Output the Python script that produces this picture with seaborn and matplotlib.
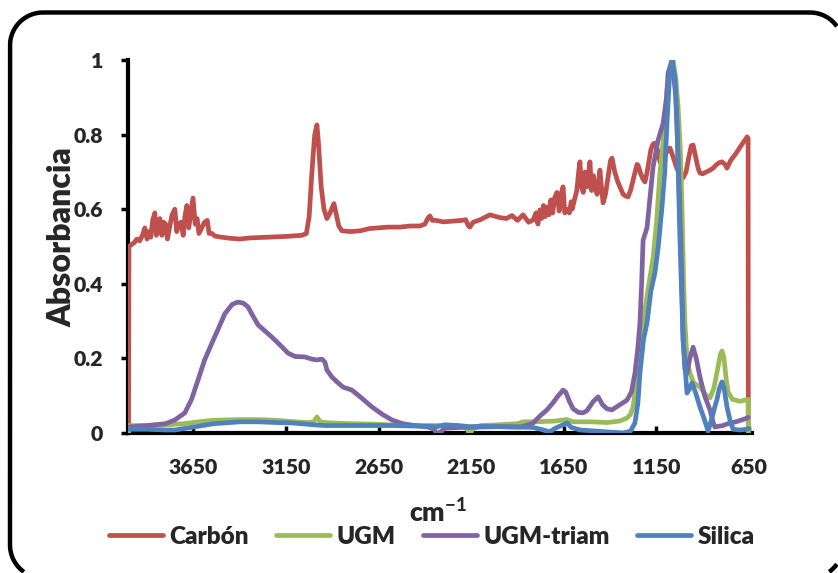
import numpy as np
import pandas as pd
import matplotlib
matplotlib.use("Agg")
import matplotlib.pyplot as plt
from matplotlib.lines import Line2D
import seaborn as sns

# FTIR spectra: wavenumber (cm-1) and normalised absorbance
carbon_wn = [4000, 3998, 3985, 3970, 3955, 3940, 3925, 3912, 3900, 3890, 3880, 3870, 3858, 3850,
             3840, 3831, 3820, 3810, 3800, 3790, 3777, 3765, 3750, 3740, 3730, 3718, 3705, 3696,
             3685, 3675, 3665, 3652, 3640, 3630, 3620, 3605, 3590, 3575, 3565, 3550, 3534, 3500,
             3450, 3400, 3345, 3250, 3150, 3064, 3040, 3025, 3010, 2995, 2983, 2975, 2960, 2945,
             2929, 2912, 2900, 2891, 2880, 2865, 2848, 2800, 2750, 2700, 2650, 2600, 2535, 2480,
             2427, 2400, 2385, 2373, 2360, 2340, 2300, 2250, 2200, 2180, 2165, 2157, 2140, 2100,
             2049, 2000, 1960, 1930, 1900, 1870, 1840, 1816, 1800, 1790, 1779, 1770, 1760, 1750,
             1741, 1730, 1720, 1710, 1700, 1687, 1675, 1665, 1654, 1645, 1633, 1620, 1610, 1605,
             1595, 1580, 1570, 1563, 1555, 1545, 1535, 1525, 1515, 1509, 1500, 1490, 1482, 1470,
             1455, 1445, 1438, 1425, 1410, 1398, 1390, 1375, 1360, 1347, 1330, 1315, 1303, 1290,
             1270, 1255, 1249, 1235, 1222, 1212, 1200, 1180, 1168, 1158, 1145, 1130, 1120, 1105,
             1090, 1077, 1060, 1040, 1020, 1006, 990, 975, 962, 952, 940, 925, 915, 900, 880, 860,
             844, 825, 810, 796, 780, 769, 750, 720, 700, 680, 665, 661, 655, 654]
carbon_abs = [0.00, 0.50, 0.505, 0.51, 0.52, 0.515, 0.53, 0.55, 0.52, 0.54, 0.525, 0.57, 0.59, 0.53,
              0.56, 0.575, 0.53, 0.565, 0.56, 0.52, 0.555, 0.585, 0.60, 0.54, 0.56, 0.565, 0.53, 0.58,
              0.61, 0.55, 0.585, 0.63, 0.56, 0.575, 0.535, 0.55, 0.565, 0.57, 0.535, 0.535, 0.528, 0.525,
              0.522, 0.52, 0.523, 0.525, 0.527, 0.53, 0.535, 0.58, 0.70, 0.80, 0.826, 0.78, 0.66, 0.60,
              0.575, 0.59, 0.605, 0.615, 0.59, 0.555, 0.542, 0.54, 0.542, 0.548, 0.55, 0.552, 0.552, 0.555,
              0.555, 0.56, 0.575, 0.582, 0.57, 0.57, 0.566, 0.568, 0.57, 0.572, 0.555, 0.552, 0.565, 0.572,
              0.585, 0.578, 0.575, 0.583, 0.57, 0.585, 0.565, 0.571, 0.59, 0.56, 0.598, 0.575, 0.61, 0.58,
              0.606, 0.585, 0.625, 0.59, 0.63, 0.645, 0.595, 0.64, 0.66, 0.59, 0.60, 0.59, 0.62, 0.60,
              0.62, 0.65, 0.70, 0.727, 0.66, 0.645, 0.70, 0.66, 0.70, 0.727, 0.65, 0.69, 0.66, 0.64,
              0.705, 0.65, 0.617, 0.64, 0.69, 0.73, 0.737, 0.70, 0.675, 0.66, 0.64, 0.635, 0.633, 0.65,
              0.69, 0.72, 0.718, 0.695, 0.68, 0.673, 0.70, 0.76, 0.775, 0.777, 0.76, 0.725, 0.724, 0.74,
              0.76, 0.764, 0.74, 0.71, 0.69, 0.684, 0.70, 0.74, 0.77, 0.772, 0.745, 0.71, 0.697, 0.695, 0.70, 0.705,
              0.71, 0.72, 0.725, 0.727, 0.72, 0.71, 0.73, 0.75, 0.765, 0.78, 0.79, 0.794, 0.79, 0.0]

ugm_wn = [4000, 3998, 3900, 3800, 3700, 3620, 3550, 3480, 3400, 3300, 3200, 3100, 3030, 3000,
          2983, 2965, 2940, 2900, 2800, 2700, 2600, 2500, 2400, 2300, 2200, 2170, 2157, 2145,
          2100, 2000, 1900, 1870, 1800, 1700, 1633, 1600, 1500, 1417, 1350, 1309, 1290, 1276,
          1255, 1239, 1222, 1200, 1168, 1150, 1131, 1110, 1093, 1075, 1060, 1045, 1033, 1020,
          1012, 1003, 996, 985, 969, 950, 915, 880, 861, 840, 820, 805, 796, 785, 775, 763,
          740, 720, 699, 680, 655, 654]
ugm_abs = [0.0, 0.02, 0.02, 0.022, 0.025, 0.03, 0.034, 0.035, 0.036, 0.036, 0.034, 0.03, 0.028, 0.03,
           0.043, 0.03, 0.028, 0.027, 0.025, 0.024, 0.022, 0.02, 0.02, 0.02, 0.018, 0.01, -0.008, 0.01,
           0.02, 0.022, 0.025, 0.03, 0.03, 0.032, 0.036, 0.03, 0.03, 0.028, 0.032, 0.04, 0.05, 0.07,
           0.15, 0.25, 0.295, 0.37, 0.47, 0.56, 0.697, 0.80, 0.92, 0.98, 1.0, 0.95, 0.874, 0.75,
           0.606, 0.40, 0.295, 0.20, 0.16, 0.135, 0.123, 0.10, 0.094, 0.12, 0.17, 0.21, 0.22, 0.20, 0.15, 0.11,
           0.09, 0.088, 0.085, 0.087, 0.09, 0.0]

triam_wn = [4000, 3900, 3800, 3750, 3696, 3660, 3625, 3590, 3550, 3515, 3480, 3440, 3409, 3380,
            3355, 3330, 3301, 3260, 3226, 3180, 3139, 3100, 3048, 3010, 2983, 2956, 2940, 2929,
            2902, 2870, 2842, 2794, 2740, 2686, 2630, 2578, 2520, 2470, 2383, 2350, 2335, 2310,
            2292, 2200, 2100, 2000, 1887, 1840, 1816, 1780, 1741, 1710, 1680, 1654, 1640, 1620,
            1600, 1570, 1546, 1525, 1490, 1465, 1440, 1417, 1390, 1350, 1309, 1285, 1266, 1250,
            1239, 1230, 1222, 1201, 1168, 1141, 1114, 1095, 1087, 1066, 1045, 1030, 1015, 1006,
            996, 985, 970, 952, 935, 915, 890, 861, 845, 834, 815, 790, 753, 720, 690, 661, 655]
triam_abs = [0.016, 0.02, 0.025, 0.035, 0.054, 0.09, 0.142, 0.195, 0.241, 0.28, 0.32, 0.345, 0.351, 0.348,
             0.338, 0.315, 0.29, 0.272, 0.257, 0.235, 0.214, 0.205, 0.204, 0.198, 0.196, 0.198, 0.19, 0.169,
             0.15, 0.135, 0.123, 0.115, 0.093, 0.07, 0.05, 0.035, 0.025, 0.021, 0.016, 0.01, -0.003, 0.005,
             0.013, 0.015, 0.016, 0.017, 0.016, 0.022, 0.027, 0.045, 0.062, 0.08, 0.10, 0.115, 0.11, 0.085,
             0.065, 0.055, 0.054, 0.06, 0.085, 0.097, 0.075, 0.065, 0.062, 0.075, 0.088, 0.11, 0.16, 0.23,
             0.295, 0.40, 0.517, 0.55, 0.714, 0.785, 0.83, 0.90, 0.965, 1.0, 0.90, 0.70, 0.45, 0.25,
             0.17, 0.16, 0.20, 0.23, 0.20, 0.15, 0.10, 0.062, 0.03, 0.016, 0.018, 0.02, 0.027, 0.03, 0.035, 0.04, 0.042]

silica_wn = [4000, 3900, 3800, 3750, 3700, 3660, 3600, 3540, 3480, 3400, 3300, 3200, 3118, 3000,
             2940, 2800, 2578, 2400, 2335, 2292, 2221, 2157, 2100, 2000, 1900, 1816, 1760, 1725,
             1700, 1654, 1633, 1610, 1563, 1500, 1417, 1330, 1290, 1266, 1250, 1239, 1220, 1201,
             1180, 1158, 1140, 1120, 1105, 1093, 1080, 1066, 1050, 1039, 1023, 1006, 985, 970,
             958, 940, 915, 890, 871, 850, 835, 823, 810, 796, 785, 769, 753, 736, 700, 661, 655]
silica_abs = [0.01, 0.01, 0.008, 0.008, 0.012, 0.015, 0.02, 0.025, 0.027, 0.03, 0.03, 0.028, 0.027, 0.022,
              0.02, 0.02, 0.02, 0.018, 0.017, 0.022, 0.02, 0.017, 0.018, 0.017, 0.016, 0.015, 0.008, 0.003,
              0.012, 0.022, 0.027, 0.015, 0.008, 0.006, 0.003, 0.0, 0.005, 0.027, 0.08, 0.16, 0.25, 0.295,
              0.38, 0.43, 0.50, 0.606, 0.70, 0.83, 0.95, 1.0, 0.95, 0.83, 0.517, 0.25, 0.107, 0.12,
              0.134, 0.11, 0.07, 0.035, 0.005, 0.04, 0.07, 0.09, 0.12, 0.137, 0.12, 0.07, 0.035, 0.01, 0.008, 0.01, 0.012]

series_names = ["Carbón", "UGM", "UGM-triam", "Silica"]
series_colors = ["#C0504D", "#9BBB59", "#8064A2", "#4F81BD"]
x_ticks = [3650, 3150, 2650, 2150, 1650, 1150, 650]
y_ticks = [0, 0.2, 0.4, 0.6, 0.8, 1]
y_ticklabels = ["0", "0.2", "0.4", "0.6", "0.8", "1"]

frames = []
for name, wn, ab in zip(series_names,
                        [carbon_wn, ugm_wn, triam_wn, silica_wn],
                        [carbon_abs, ugm_abs, triam_abs, silica_abs]):
    frames.append(pd.DataFrame({"wn": wn, "abs": ab, "serie": name}))
df = pd.concat(frames, ignore_index=True)

sns.set_theme(style="white")
plt.rcParams["font.family"] = ["Lato", "DejaVu Sans"]
plt.rcParams["font.weight"] = "heavy"
plt.rcParams["mathtext.fontset"] = "custom"
plt.rcParams["mathtext.bf"] = "Lato:black"
plt.rcParams["mathtext.rm"] = "Lato:black"
plt.rcParams["mathtext.default"] = "bf"
plt.rcParams["savefig.bbox"] = "standard"

W, H = 838, 573
LW = 3.4
fig = plt.figure(figsize=(W / 100, H / 100), dpi=100)
ax = fig.add_axes([128 / W, 1 - 433 / H, (752 - 128) / W, (433 - 60) / H])

sns.lineplot(data=df, x="wn", y="abs", hue="serie", hue_order=series_names,
             palette=series_colors, sort=False, estimator=None, linewidth=LW,
             ax=ax, legend=True)

ax.set_xlim(4003, 634)
ax.set_ylim(0, 1)
ax.set_xticks(x_ticks)
ax.set_xticklabels([str(t) for t in x_ticks])
ax.set_yticks(y_ticks)
ax.set_yticklabels(y_ticklabels)

for side in ["top", "right"]:
    ax.spines[side].set_visible(False)
for side in ["left", "bottom"]:
    ax.spines[side].set_color("black")
    ax.spines[side].set_linewidth(3.0)
    ax.spines[side].set_zorder(1)

ax.tick_params(axis="x", direction="in", length=5, width=2.5, color="black",
               pad=18, labelsize=15.3, bottom=True)
ax.tick_params(axis="y", direction="out", length=5, width=2.5, color="black",
               pad=13, labelsize=15.3, left=True)
for lbl in ax.get_xticklabels() + ax.get_yticklabels():
    lbl.set_fontweight("heavy")

ax.set_xlabel(r"cm$^{-1}$", fontsize=19, fontweight="heavy")
ax.set_ylabel("Absorbancia", fontsize=23, fontweight="heavy")
ax.xaxis.set_label_coords((438 - 128) / (752 - 128), -(498 - 433) / (433 - 60))
ax.yaxis.set_label_coords(-(128 - 76) / (752 - 128), (433 - 237) / (433 - 60))

ax.get_legend().remove()
handles, labels = ax.get_legend_handles_labels()
for h in handles:
    h.set_linewidth(LW)
fig.legend(handles, labels, loc="center", bbox_to_anchor=(432 / W, 1 - 537 / H),
           ncol=4, frameon=False, handlelength=2.2, handletextpad=0.29,
           columnspacing=1.12, prop={"weight": "heavy", "size": 17.5})

# rounded outer frame in pixel units; the part beyond the canvas edge is left undrawn
left, top, right, bottom, radius = 10, 12.5, 843, 578, 33
corners = [(right - radius, top + radius, -90, 0), (right - radius, bottom - radius, 0, 90),
           (left + radius, bottom - radius, 90, 180), (left + radius, top + radius, 180, 270)]
px, py = [], []
for cx, cy, a0, a1 in corners:
    t = np.radians(np.linspace(a0, a1, 120))
    px.extend(cx + radius * np.cos(t))
    py.extend(cy + radius * np.sin(t))
px.append(px[0])
py.append(py[0])
px = np.array(px)
py = np.array(py)
outside = (px > W - 1) | (py > H - 1)
px[outside] = np.nan
py[outside] = np.nan
frame = Line2D(px / W, 1 - py / H, transform=fig.transFigure,
               color="black", linewidth=3.2, solid_capstyle="butt")
frame.set_in_layout(False)
fig.lines.append(frame)

fig.savefig("out.png", dpi=100, bbox_inches=None)
